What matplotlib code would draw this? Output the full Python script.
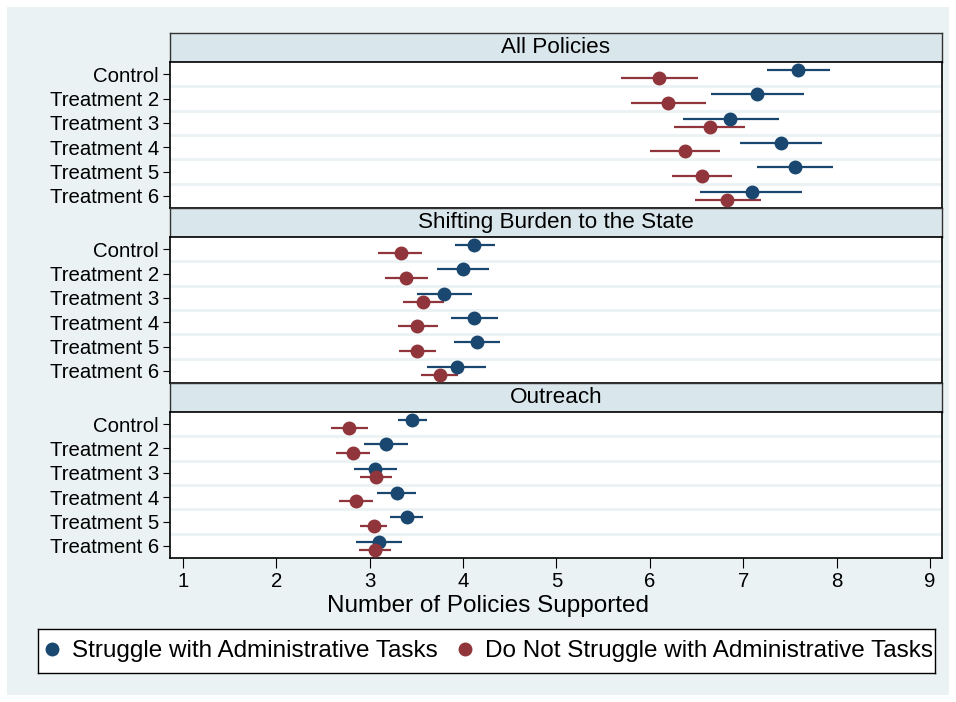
import matplotlib
matplotlib.use("Agg")
import matplotlib.pyplot as plt
from matplotlib.lines import Line2D
import numpy as np

plt.rcParams['font.family'] = ['Liberation Sans', 'DejaVu Sans']

categories = ["Control", "Treatment 2", "Treatment 3", "Treatment 4", "Treatment 5", "Treatment 6"]
panels = ["All Policies", "Shifting Burden to the State", "Outreach"]
series = ["Struggle with Administrative Tasks", "Do Not Struggle with Administrative Tasks"]
x_ticks = [1, 2, 3, 4, 5, 6, 7, 8, 9]
x_label = "Number of Policies Supported"

# All Policies
all_struggle = [7.59, 7.15, 6.86, 7.41, 7.55, 7.09]
all_struggle_lo = [7.25, 6.66, 6.36, 6.97, 7.15, 6.54]
all_struggle_hi = [7.93, 7.65, 7.38, 7.84, 7.96, 7.63]
all_nostruggle = [6.10, 6.20, 6.64, 6.38, 6.56, 6.83]
all_nostruggle_lo = [5.69, 5.80, 6.26, 6.00, 6.24, 6.48]
all_nostruggle_hi = [6.52, 6.60, 7.02, 6.75, 6.88, 7.19]

# Shifting Burden to the State
shift_struggle = [4.12, 4.00, 3.80, 4.12, 4.15, 3.93]
shift_struggle_lo = [3.91, 3.72, 3.51, 3.87, 3.90, 3.61]
shift_struggle_hi = [4.34, 4.28, 4.10, 4.37, 4.40, 4.25]
shift_nostruggle = [3.33, 3.39, 3.57, 3.51, 3.51, 3.75]
shift_nostruggle_lo = [3.09, 3.16, 3.36, 3.30, 3.31, 3.55]
shift_nostruggle_hi = [3.56, 3.62, 3.80, 3.73, 3.71, 3.95]

# Outreach
out_struggle = [3.45, 3.17, 3.06, 3.29, 3.40, 3.10]
out_struggle_lo = [3.30, 2.94, 2.83, 3.08, 3.22, 2.85]
out_struggle_hi = [3.61, 3.41, 3.29, 3.50, 3.57, 3.35]
out_nostruggle = [2.78, 2.82, 3.07, 2.85, 3.04, 3.06]
out_nostruggle_lo = [2.59, 2.64, 2.90, 2.67, 2.90, 2.89]
out_nostruggle_hi = [2.98, 3.00, 3.24, 3.03, 3.18, 3.23]

panel_data = [
    ((all_struggle, all_struggle_lo, all_struggle_hi), (all_nostruggle, all_nostruggle_lo, all_nostruggle_hi)),
    ((shift_struggle, shift_struggle_lo, shift_struggle_hi), (shift_nostruggle, shift_nostruggle_lo, shift_nostruggle_hi)),
    ((out_struggle, out_struggle_lo, out_struggle_hi), (out_nostruggle, out_nostruggle_lo, out_nostruggle_hi)),
]

BLUE = "#1a476f"
RED = "#90353b"
BG = "#eaf2f3"
STRIP = "#d9e6eb"
FS = 14.7
FS_STRIP = 16.2
FS_BIG = 17.5

W, H = 956, 702
fig = plt.figure(figsize=(W / 100, H / 100), dpi=100)
fig.patch.set_facecolor("white")

# outer light background
bgax = fig.add_axes([7 / W, 7 / H, (W - 14) / W, (H - 14) / H])
bgax.set_facecolor(BG)
bgax.set_xticks([]); bgax.set_yticks([])
for s in bgax.spines.values():
    s.set_visible(False)
bgax.set_zorder(-10)

def px_axes(x0, y0, x1, y1):
    return fig.add_axes([x0 / W, 1 - y1 / H, (x1 - x0) / W, (y1 - y0) / H])

X0, X1 = 170, 942
strip_tops = [33, 208, 383]
strip_h = 29
plot_h = 146
xlim = (0.86, 9.13)
offset = 0.17
y = np.arange(len(categories))

for k, title in enumerate(panels):
    st = strip_tops[k]
    sax = px_axes(X0, st, X1, st + strip_h)
    sax.set_facecolor(STRIP)
    sax.set_xticks([]); sax.set_yticks([])
    for s in sax.spines.values():
        s.set_color("#333333"); s.set_linewidth(1.0)
    sax.text(0.5, 0.5, title, ha="center", va="center", fontsize=FS_STRIP, transform=sax.transAxes)

    ax = px_axes(X0, st + strip_h, X1, st + strip_h + plot_h)
    ax.set_facecolor("white")
    ax.set_xlim(*xlim)
    ax.set_ylim(len(categories) - 0.5, -0.5)
    for b in np.arange(0.5, len(categories) - 0.5, 1.0):
        ax.axhline(b, color=BG, lw=2.0, zorder=1)
    (m1, l1, h1), (m2, l2, h2) = panel_data[k]
    ax.hlines(y - offset, l1, h1, color=BLUE, lw=1.6, zorder=2)
    ax.plot(m1, y - offset, "o", color=BLUE, ms=9, zorder=3)
    ax.hlines(y + offset, l2, h2, color=RED, lw=1.6, zorder=2)
    ax.plot(m2, y + offset, "o", color=RED, ms=9, zorder=3)
    ax.set_yticks(y)
    ax.set_yticklabels(categories, fontsize=FS)
    ax.tick_params(axis="y", length=5, width=0.8, pad=3)
    for s in ax.spines.values():
        s.set_color("black"); s.set_linewidth(1.2)
    if k < 2:
        ax.set_xticks([])
    else:
        ax.set_xticks(x_ticks)
        ax.set_xticklabels([str(t) for t in x_ticks], fontsize=FS)
        ax.tick_params(axis="x", length=7, width=0.8, pad=3)

fig.text(488 / W, 1 - 606 / H, x_label, ha="center", va="center", fontsize=FS_BIG)

# legend box
lax = px_axes(38, 629, 935, 673)
lax.set_facecolor("white")
lax.set_xticks([]); lax.set_yticks([])
for s in lax.spines.values():
    s.set_color("black"); s.set_linewidth(1.0)
handles = [Line2D([], [], ls="none", marker="o", color=BLUE, ms=9),
           Line2D([], [], ls="none", marker="o", color=RED, ms=9)]
lax.legend(handles, series, loc="center", ncol=2, frameon=False, fontsize=FS_BIG,
           handletextpad=0.33, columnspacing=0.6, handlelength=1.0, borderaxespad=0,
           borderpad=0)

fig.savefig("out.png", dpi=100, facecolor=fig.get_facecolor())
